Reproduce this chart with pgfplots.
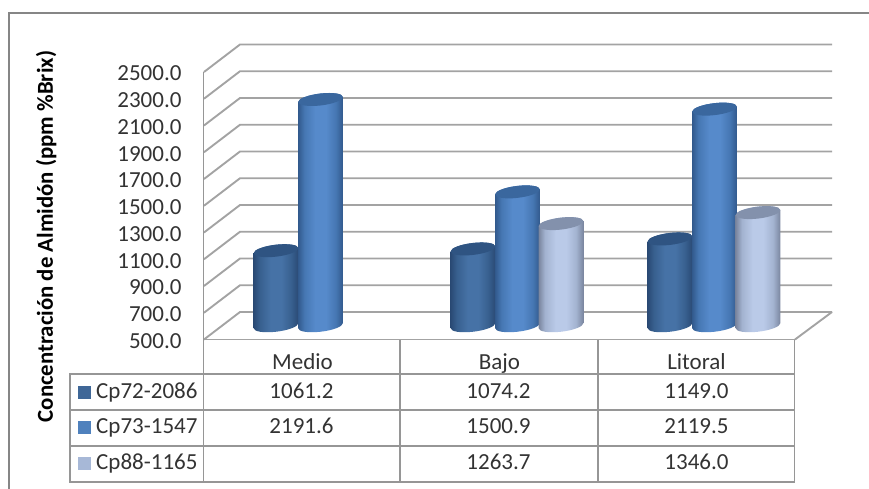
\documentclass[border=0pt]{standalone}
\usepackage{fontspec}
\setmainfont{Carlito}
\usepackage{pgfplots}
\pgfplotsset{compat=1.18}

\definecolor{wallgray}{HTML}{A3A3A3}
\definecolor{tablegray}{HTML}{969696}
\definecolor{framegray}{HTML}{868686}
\definecolor{labeltext}{HTML}{333333}
\definecolor{keya}{HTML}{3F6797}
\definecolor{keyb}{HTML}{4F81BD}
\definecolor{keyc}{HTML}{A7B8D7}

% edge, shoulder, highlight and top-face colours of each variety
\definecolor{aedge}{HTML}{2A4A75}\definecolor{amid}{HTML}{38608F}\definecolor{ahi}{HTML}{4672A6}\definecolor{acap}{HTML}{2F5482}
\definecolor{bedge}{HTML}{325A8D}\definecolor{bmid}{HTML}{4677B3}\definecolor{bhi}{HTML}{568ACB}\definecolor{bcap}{HTML}{3A679E}
\definecolor{cedge}{HTML}{7A869F}\definecolor{cmid}{HTML}{A3B3D0}\definecolor{chi}{HTML}{BACAE8}\definecolor{ccap}{HTML}{8391AC}

\newcommand\cylshading[1]{%
  \pgfdeclarehorizontalshading{cyl#1}{100bp}{%
    color(0bp)=(#1edge); color(25bp)=(#1edge); color(32bp)=(#1mid);
    color(44bp)=(#1hi); color(56bp)=(#1hi); color(67bp)=(#1mid);
    color(75bp)=(#1edge); color(100bp)=(#1edge)}}
\cylshading{a}\cylshading{b}\cylshading{c}

\newcommand\cylaxisunit{0.13375}% picture points per ppm on the value axis

% #1 variety, #2 sideways offset of the cylinder inside its category
\newcommand\cylmark[2]{%
  \pgfdeclareplotmark{cyl#1}{%
    \pgfmathsetmacro\cylh{(\rawy-500)*\cylaxisunit}%
    \pgftransformcm{1}{0.112}{0}{1}{\pgfpoint{#2pt}{13.75pt}}%
    \pgfsetstrokeopacity{0}%
    \path[draw=none,shading=cyl#1] (-22.3pt,0pt)
      arc[start angle=180,end angle=0,x radius=22.3pt,y radius=6pt]
      -- (22.3pt,-\cylh pt)
      arc[start angle=0,end angle=-180,x radius=22.3pt,y radius=6pt]
      -- cycle;
    \path[draw=none,fill=#1cap] (0pt,0pt) ellipse[x radius=22.3pt,y radius=6pt];}}
\cylmark{a}{-26.5}
\cylmark{b}{18}
\cylmark{c}{61.5}

\pgfplotsset{
  cylinders/.style={only marks,scatter,scatter src=y,mark=cyl#1,
    visualization depends on={y \as \rawy},
    scatter/use mapped color={draw=none,fill=none}},
}

\pgfplotstableread{
x  v
0  1061.2
1  1074.2
2  1149.0
}\seriesa
\pgfplotstableread{
x  v
0  2191.6
1  1500.9
2  2119.5
}\seriesb
\pgfplotstableread{
x  v
1  1263.7
2  1346.0
}\seriesc

\begin{document}
\begin{tikzpicture}[x=1pt,y=1pt]
\path[use as bounding box] (0,0) rectangle (869,489);
\begin{axis}[
  at={(204pt,149.5pt)},anchor=south west,
  scale only axis,width=591pt,height=267.5pt,
  xmin=-0.5,xmax=2.5,ymin=500,ymax=2500,
  clip=false,
  axis line style={draw=none},
  major tick length=0pt,
  xtick={0,1,2},xticklabels={Medio,Bajo,Litoral},
  ytick={500,700,...,2500},
  font=\fontsize{23}{26}\selectfont\color{labeltext},
  /pgf/number format/assume math mode=true,
  /pgf/number format/fixed,/pgf/number format/fixed zerofill,
  /pgf/number format/precision=1,/pgf/number format/1000 sep={},
  yticklabel style={anchor=east,xshift=-19pt,yshift=-1.5pt},
  xticklabel style={anchor=base,yshift=-30pt},
  ylabel={\fontsize{22.8}{25}\selectfont\bfseries\color{black}Concentración de Almidón (ppm \%Brix)},
  every axis y label/.style={at={(axis description cs:-0.267,0.385)},rotate=90,anchor=center},
]
% side wall and back wall rulings of the 3-D frame
\pgfplotsinvokeforeach{500,700,900,1100,1300,1500,1700,1900,2100,2300,2500}{
  \draw[wallgray,line width=1.9pt]
    (axis cs:-0.5,#1) -- ([shift={(36pt,27.5pt)}]axis cs:-0.5,#1)
    -- ([shift={(37pt,27.5pt)}]axis cs:2.5,#1);
}
\draw[wallgray,line width=1.9pt]
  (axis cs:2.5,500) -- ([shift={(37pt,27.5pt)}]axis cs:2.5,500);
\draw[wallgray,line width=1.9pt] (axis cs:-0.5,500) -- (axis cs:2.5,500);

\addplot[cylinders=a] table[x=x,y=v] {\seriesa};
\addplot[cylinders=b] table[x=x,y=v] {\seriesb};
\addplot[cylinders=c] table[x=x,y=v] {\seriesc};
\end{axis}

% data table under the plot, laid out from the top-left corner of the page
\begin{scope}[y=-1pt,shift={(0,-489)}]
\draw[framegray,line width=2pt] (9.3,489) -- (9.3,13.3) -- (869,13.3);
\draw[tablegray,line width=1.8pt] (203.5,72) -- (203.5,482);
\foreach \cx in {400,598,794.5} \draw[tablegray,line width=1.8pt] (\cx,340) -- (\cx,482);
\draw[tablegray,line width=1.8pt] (70,374.3) rectangle (794.5,481.7);
\draw[tablegray,line width=1.8pt] (70,410.3) -- (794.5,410.3) (70,445.8) -- (794.5,445.8);
\fill[keya] (78,385.7) rectangle (91,399);
\fill[keyb] (78,421.3) rectangle (91,434);
\fill[keyc] (78,456.7) rectangle (91,470);
\begin{scope}[every node/.style={font=\fontsize{23}{26}\selectfont\color{labeltext},inner sep=0pt}]
\node[anchor=base west] at (96,398.3) {Cp72-2086};
\node[anchor=base west] at (96,434) {Cp73-1547};
\node[anchor=base west] at (96,469.3) {Cp88-1165};
\node[anchor=base] at (301.5,398.3) {1061.2};
\node[anchor=base] at (498.5,398.3) {1074.2};
\node[anchor=base] at (696.5,398.3) {1149.0};
\node[anchor=base] at (301.5,434) {2191.6};
\node[anchor=base] at (498.5,434) {1500.9};
\node[anchor=base] at (696.5,434) {2119.5};
\node[anchor=base] at (498.5,469.3) {1263.7};
\node[anchor=base] at (696.5,469.3) {1346.0};
\end{scope}
\end{scope}
\end{tikzpicture}
\end{document}
